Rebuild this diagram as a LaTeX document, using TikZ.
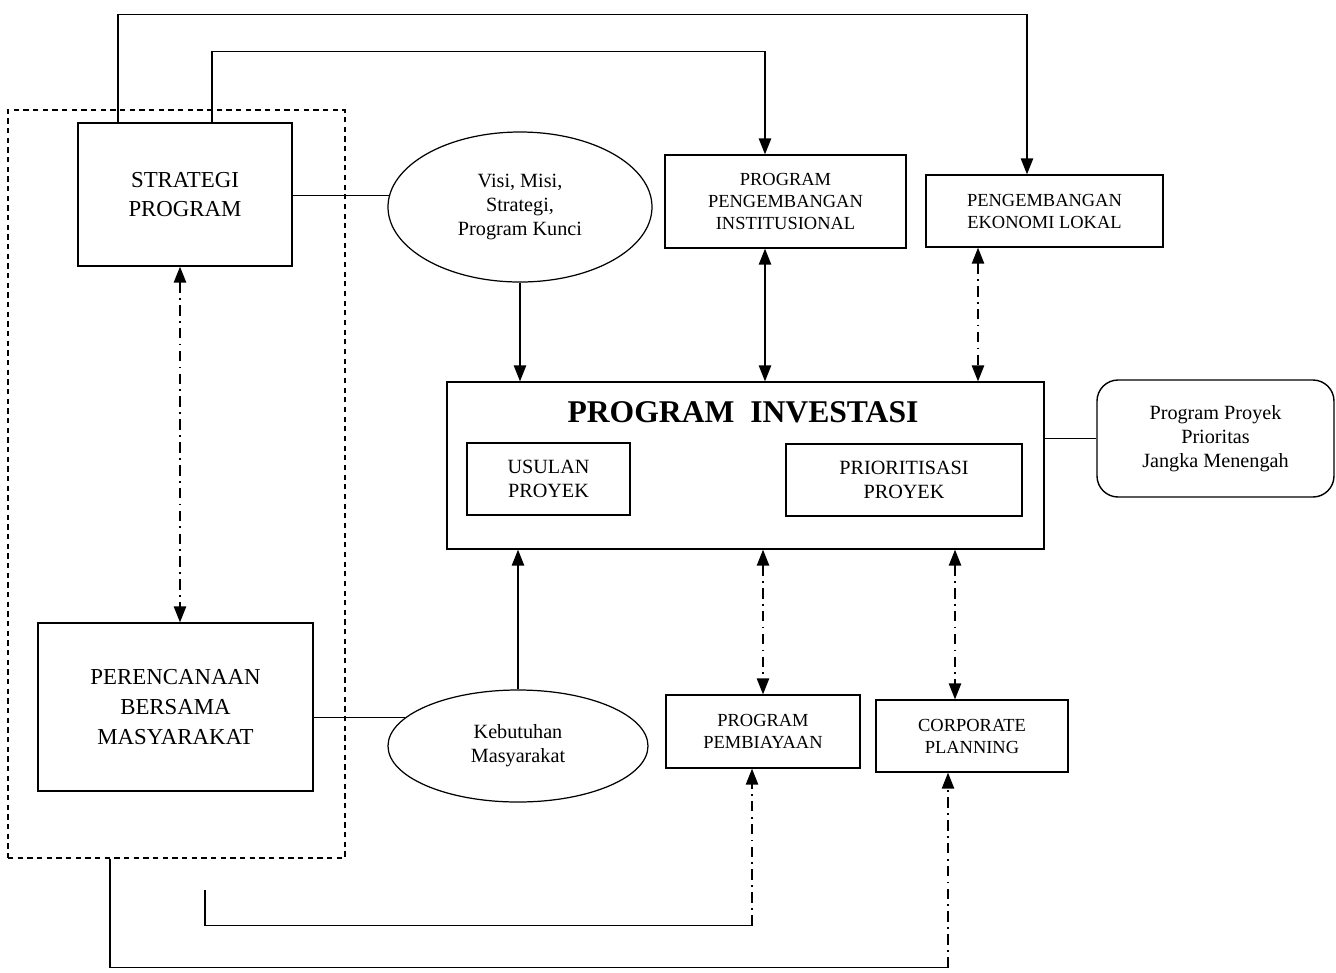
\documentclass[tikz,border=0pt]{standalone}
\usepackage{fontspec}
\setmainfont{Liberation Serif}
\usetikzlibrary{arrows.meta}
\usetikzlibrary{shapes.geometric}
\usetikzlibrary{calc}

\begin{document}
\begin{tikzpicture}[x=0.2mm, y=-0.2mm, line width=0.7pt,
    >={Triangle[width=7pt, length=9pt]},
    box/.style={draw, line width=0.8pt, align=center, inner sep=2pt, font=\fontsize{13}{17}\selectfont},
    smallbox/.style={draw, line width=0.8pt, align=center, inner sep=2pt, font=\fontsize{10.5}{12.5}\selectfont},
    bubble/.style={draw, ellipse, align=center, inner sep=0pt, font=\fontsize{11.5}{13.5}\selectfont},
    dashdot/.style={dash pattern=on 6pt off 3pt on 1pt off 3pt},
    frame/.style={draw, dash pattern=on 3pt off 2.5pt}]
    \useasboundingbox (0,0) rectangle (1336,972);

    % grouping frame on the left
    \node[frame, minimum width=6.74cm, minimum height=14.96cm] (group) at (176.5,484) {};

    \node[box, minimum width=4.28cm, minimum height=2.86cm] (strat) at (185,194.5) {STRATEGI\\PROGRAM};
    \node[box, minimum width=5.5cm, minimum height=3.36cm] (perenc) at (175.5,707) {PERENCANAAN\\BERSAMA\\MASYARAKAT};

    \node[bubble, minimum width=5.28cm, minimum height=3cm] (visi) at (520,207) {Visi, Misi,\\Strategi,\\Program Kunci};
    \node[bubble, minimum width=5.2cm, minimum height=2.24cm] (kebut) at (518,746) {Kebutuhan\\Masyarakat};

    \node[smallbox, minimum width=4.82cm, minimum height=1.86cm] (inst) at (785.5,201.5) {PROGRAM\\PENGEMBANGAN\\INSTITUSIONAL};
    \node[smallbox, minimum width=4.74cm, minimum height=1.44cm] (ekon) at (1044.5,211) {PENGEMBANGAN\\EKONOMI LOKAL};

    % program investasi with its two inner boxes
    \node[draw, line width=0.8pt, minimum width=11.94cm, minimum height=3.34cm] (invest) at (745.5,465.5) {};
    \node[font=\fontsize{18}{20}\selectfont\bfseries] (investtitle) at (743,412) {PROGRAM\ \ INVESTASI};
    \node[smallbox, font=\fontsize{11.5}{14}\selectfont, minimum width=3.26cm, minimum height=1.44cm] (usul) at (548.5,479) {USULAN\\PROYEK};
    \node[smallbox, font=\fontsize{11.5}{14}\selectfont, minimum width=4.72cm, minimum height=1.44cm] (prio) at (904,480) {PRIORITISASI\\PROYEK};

    \node[draw, line width=0.8pt, rounded corners=12pt, align=center, font=\fontsize{11.5}{13.6}\selectfont, minimum width=4.74cm, minimum height=2.34cm] (prior) at (1215.5,438.5) {Program Proyek\\Prioritas\\Jangka Menengah};

    \node[smallbox, minimum width=3.88cm, minimum height=1.46cm] (pemb) at (763,731.5) {PROGRAM\\PEMBIAYAAN};
    \node[smallbox, minimum width=3.84cm, minimum height=1.44cm] (corp) at (972,736) {CORPORATE\\PLANNING};

    \coordinate (loopa) at (205,890);

    % plain links
    \draw (visi.175 -| strat.east) -- (visi.175);
    \draw (kebut.166 -| perenc.east) -- (kebut.166);
    \draw (prior.west -| invest.east) -- (prior.west);

    % arrows into and out of program investasi
    \draw[->] (visi.south) -- (visi.south |- invest.north);
    \draw[->] (kebut.north) -- (kebut.north |- invest.south);
    \draw[<->] ([xshift=-0.41cm]inst.south) -- ([xshift=-0.41cm]inst.south |- invest.north);
    \draw[<->, dashdot] ([xshift=-1.33cm]ekon.south) -- ([xshift=-1.33cm]ekon.south |- invest.north);
    \draw[<->, dashdot] (pemb.north |- invest.south) -- (pemb.north);
    \draw[<->, dashdot] ([xshift=-0.34cm]corp.north |- invest.south) -- ([xshift=-0.34cm]corp.north);
    \draw[<->, dashdot] ([xshift=-0.1cm]strat.south) -- ([xshift=-0.1cm]strat.south |- perenc.north);

    % loops over the top
    \draw[->] ([xshift=0.54cm]strat.north) -- ++(0,-71) -| ([xshift=-0.41cm]inst.north);
    \draw[->] ([xshift=-1.34cm]strat.north) -- ++(0,-108) -| ([xshift=-0.35cm]ekon.north);

    % loops under the bottom
    \path ([xshift=-0.22cm]pemb.south) ++(0,157) coordinate (turna);
    \draw (loopa) |- (turna);
    \draw[->, dashdot] (turna) -- ([xshift=-0.22cm]pemb.south);
    \path ([xshift=-0.48cm]corp.south) ++(0,195) coordinate (turnb);
    \draw ([xshift=-1.33cm]group.south) |- (turnb);
    \draw[->, dashdot] (turnb) -- ([xshift=-0.48cm]corp.south);
\end{tikzpicture}
\end{document}
